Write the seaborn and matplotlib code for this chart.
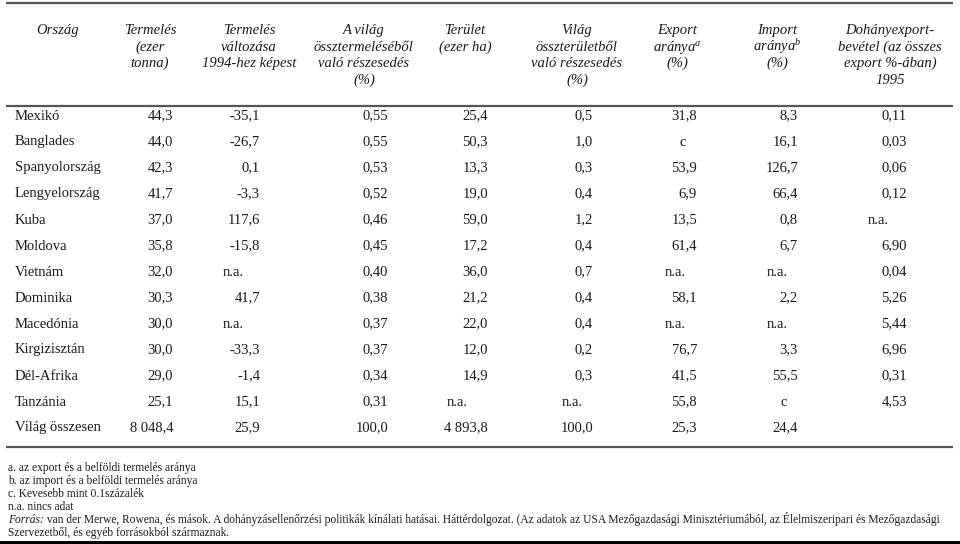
import matplotlib
matplotlib.use("Agg")
import matplotlib.pyplot as plt
import seaborn as sns
import pandas as pd

# ---------------- data ----------------
countries = ["Mexikó", "Banglades", "Spanyolország", "Lengyelország", "Kuba", "Moldova",
             "Vietnám", "Dominika", "Macedónia", "Kirgizisztán", "Dél-Afrika", "Tanzánia",
             "Világ összesen"]
production = ["44,3", "44,0", "42,3", "41,7", "37,0", "35,8", "32,0", "30,3", "30,0", "30,0",
              "29,0", "25,1", "8 048,4"]
change = ["-35,1", "-26,7", "0,1", "-3,3", "117,6", "-15,8", "n.a.", "41,7", "n.a.", "-33,3",
          "-1,4", "15,1", "25,9"]
prod_share = ["0,55", "0,55", "0,53", "0,52", "0,46", "0,45", "0,40", "0,38", "0,37", "0,37",
              "0,34", "0,31", "100,0"]
area = ["25,4", "50,3", "13,3", "19,0", "59,0", "17,2", "36,0", "21,2", "22,0", "12,0",
        "14,9", "n.a.", "4 893,8"]
area_share = ["0,5", "1,0", "0,3", "0,4", "1,2", "0,4", "0,7", "0,4", "0,4", "0,2", "0,3",
              "n.a.", "100,0"]
export_ratio = ["31,8", "c", "53,9", "6,9", "13,5", "61,4", "n.a.", "58,1", "n.a.", "76,7",
                "41,5", "55,8", "25,3"]
import_ratio = ["8,3", "16,1", "126,7", "66,4", "0,8", "6,7", "n.a.", "2,2", "n.a.", "3,3",
                "55,5", "c", "24,4"]
revenue = ["0,11", "0,03", "0,06", "0,12", "n.a.", "6,90", "0,04", "5,26", "5,44", "6,96",
           "0,31", "4,53", ""]

headers = [
    ["Ország"],
    ["Termelés", "(ezer", "tonna)"],
    ["Termelés", "változása", "1994-hez képest"],
    ["A világ", "össztermeléséből", "való részesedés", "(%)"],
    ["Terület", "(ezer ha)"],
    ["Világ", "összterületből", "való részesedés", "(%)"],
    ["Export", "aránya$^{a}$", "(%)"],
    ["Import", "aránya$^{b}$", "(%)"],
    ["Dohányexport-", "bevétel (az összes", "export %-ában)", "1995"],
]

footnotes = [
    "a. az export és a belföldi termelés aránya",
    "b. az import és a belföldi termelés aránya",
    "c. Kevesebb mint 0.1százalék",
    "n.a. nincs adat",
]
source_label = "Forrás:"
source_lines = [
    " van der Merwe, Rowena, és mások. A dohányzásellenőrzési politikák kínálati hatásai. "
    "Háttérdolgozat. (Az adatok az USA Mezőgazdasági Minisztériumából, az Élelmiszeripari és Mezőgazdasági",
    "Szervezetből, és egyéb forrásokból származnak.",
]

table = pd.DataFrame({
    "country": countries, "production": production, "change": change,
    "prod_share": prod_share, "area": area, "area_share": area_share,
    "export": export_ratio, "import": import_ratio, "revenue": revenue,
})

# ---------------- style ----------------
sns.set_theme(style="white")
plt.rcParams["font.family"] = ["Liberation Serif", "DejaVu Serif"]
plt.rcParams["mathtext.fontset"] = "custom"
plt.rcParams["mathtext.rm"] = "Liberation Serif"
plt.rcParams["mathtext.it"] = "Liberation Serif:italic"

TXT = "#1a1a1a"
LINE = "#555555"
FS = 10.5

fig = plt.figure(figsize=(9.6, 5.44), dpi=100)
ax = fig.add_axes([0, 0, 1, 1])
ax.set_xlim(0, 960)
ax.set_ylim(544, 0)
ax.axis("off")

# layout (pixel positions)
header_centers = [58, 150, 249, 364, 465, 577, 677, 777, 890]
header_base0, header_step = 34, 16.6
right_edges = [None, 173, 260, 388, 488, 593, 697, 798, 907]
na_left = [None, 132, 223, 347, 447, 562, 665, 767, 868]
row_base0, row_step = 119.5, 26.0

# header
for cx, lines in zip(header_centers, headers):
    for j, line in enumerate(lines):
        ax.text(cx, header_base0 + j * header_step, line, ha="center", va="baseline",
                fontsize=FS, style="italic", color=TXT)

# rules
ax.plot([6, 953], [3, 3], color=LINE, lw=1.6, solid_capstyle="butt")
ax.plot([6, 953], [106, 106], color=LINE, lw=1.6, solid_capstyle="butt")
ax.plot([6, 953], [447, 447], color=LINE, lw=1.6, solid_capstyle="butt")
ax.axhspan(540.5, 544, color="black", lw=0)

# body
cols = list(table.columns)
for i, row in table.iterrows():
    y = row_base0 + i * row_step
    ax.text(15, y, row["country"], ha="left", va="baseline", fontsize=FS, color=TXT)
    for c in range(1, len(cols)):
        val = row[cols[c]]
        if val == "":
            continue
        if val == "n.a.":
            ax.text(na_left[c], y, val, ha="left", va="baseline", fontsize=FS, color=TXT)
        elif val == "c":
            ax.text(right_edges[c] - 14, y, val, ha="center", va="baseline", fontsize=FS, color=TXT)
        else:
            ax.text(right_edges[c], y, val, ha="right", va="baseline", fontsize=FS, color=TXT)

# footnotes
FFS = 8.3
fn_base0, fn_step = 471.5, 12.9
for k, line in enumerate(footnotes):
    ax.text(8, fn_base0 + k * fn_step, line, ha="left", va="baseline", fontsize=FFS, color=TXT)

ysrc = fn_base0 + 4 * fn_step
lab = ax.text(8, ysrc, source_label, ha="left", va="baseline", fontsize=FFS,
              style="italic", color=TXT)
fig.canvas.draw()
bb = lab.get_window_extent(renderer=fig.canvas.get_renderer())
x_end = ax.transData.inverted().transform((bb.x1, bb.y0))[0]
ax.text(x_end, ysrc, source_lines[0], ha="left", va="baseline", fontsize=FFS, color=TXT)
ax.text(8, ysrc + fn_step, source_lines[1], ha="left", va="baseline", fontsize=FFS, color=TXT)

fig.savefig("out.png", dpi=100, facecolor="white")
